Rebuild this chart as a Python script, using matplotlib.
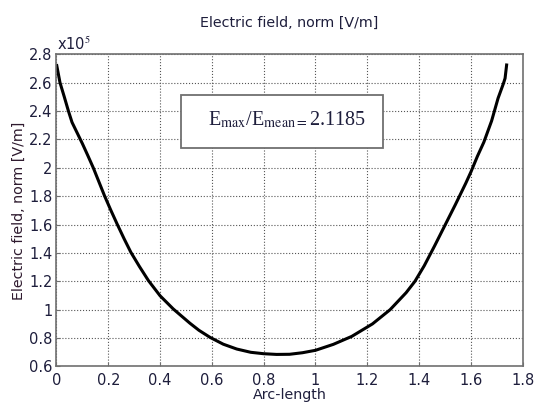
import numpy as np
import matplotlib
matplotlib.use("Agg")
from matplotlib import pyplot as plt
from matplotlib.patches import Rectangle
from matplotlib.ticker import FuncFormatter, MultipleLocator

# electric field norm along the boundary, sampled by arc-length
arc_length = [0.001, 0.0135, 0.030, 0.046, 0.060, 0.080, 0.100, 0.120, 0.142, 0.164,
              0.186, 0.210, 0.235, 0.261, 0.287, 0.320, 0.355, 0.400, 0.451, 0.515,
              0.550, 0.593, 0.644, 0.696, 0.750, 0.800, 0.850, 0.900, 0.950, 1.000,
              1.069, 1.140, 1.220, 1.288, 1.350, 1.384, 1.420, 1.460, 1.500, 1.540,
              1.580, 1.600, 1.625, 1.650, 1.680, 1.705, 1.725, 1.732, 1.738]
e_norm = [2.72, 2.60, 2.50, 2.40, 2.32, 2.245, 2.17, 2.09, 2.00, 1.90,
          1.80, 1.70, 1.60, 1.50, 1.405, 1.305, 1.205, 1.098, 1.005, 0.905,
          0.855, 0.805, 0.757, 0.723, 0.700, 0.690, 0.685, 0.686, 0.697, 0.714,
          0.756, 0.812, 0.900, 1.000, 1.120, 1.200, 1.310, 1.450, 1.595, 1.740,
          1.890, 1.970, 2.080, 2.180, 2.330, 2.490, 2.590, 2.630, 2.724]
e_norm = np.array(e_norm) * 1e5
ratio = 2.1185

txt = '#1e1e3c'
plt.rcParams['font.family'] = 'DejaVu Sans'
plt.rcParams['mathtext.fontset'] = 'stix'

fig = plt.figure(figsize=(5.34, 4.03), dpi=100)
ax = fig.add_axes([0.1058, 0.0906, 0.873, 0.7749])

ax.plot(arc_length, e_norm, color='black', lw=2.2, solid_joinstyle='round')

ax.set_xlim(0, 1.8)
ax.set_ylim(0.6e5, 2.8e5)
ax.xaxis.set_major_locator(MultipleLocator(0.2))
ax.yaxis.set_major_locator(MultipleLocator(0.2e5))
ax.xaxis.set_major_formatter(FuncFormatter(lambda v, p: f'{v:g}'))
ax.yaxis.set_major_formatter(FuncFormatter(lambda v, p: f'{v/1e5:.1f}'.rstrip('0').rstrip('.')))

ax.grid(True, ls=':', color='#555555', lw=0.8)
for s in ax.spines.values():
    s.set_color('#707070')
    s.set_linewidth(1.2)
ax.tick_params(direction='in', length=3, color='#707070', labelcolor=txt, labelsize=10.5)
ax.tick_params(axis='x', pad=5)
ax.tick_params(axis='y', pad=3)

ax.text(0.002, 1.005, r'x10$^{5}$', transform=ax.transAxes, ha='left', va='bottom',
        fontsize=10.5, color=txt, family='DejaVu Sans')

fig.text(0.542, 0.943, 'Electric field, norm [V/m]', ha='center', va='center',
         fontsize=10.3, color=txt)
ax.set_xlabel('Arc-length', fontsize=10.3, color=txt, labelpad=-0.5)
ax.set_ylabel('Electric field, norm [V/m]', fontsize=10.3, color='#2e1a2e', labelpad=2)

ax.add_patch(Rectangle((0.267, 0.701), 0.434, 0.168, transform=ax.transAxes,
                       facecolor='white', edgecolor='#707070', lw=1.3, zorder=3))
ax.text(0.494, 0.79, r'E$_{\rm max}$/E$_{\rm mean=}$' + f'{ratio:.4f}', transform=ax.transAxes,
        ha='center', va='center', fontsize=14.5, family='Liberation Serif', color=txt, zorder=4)

fig.savefig('out.png', dpi=100)
